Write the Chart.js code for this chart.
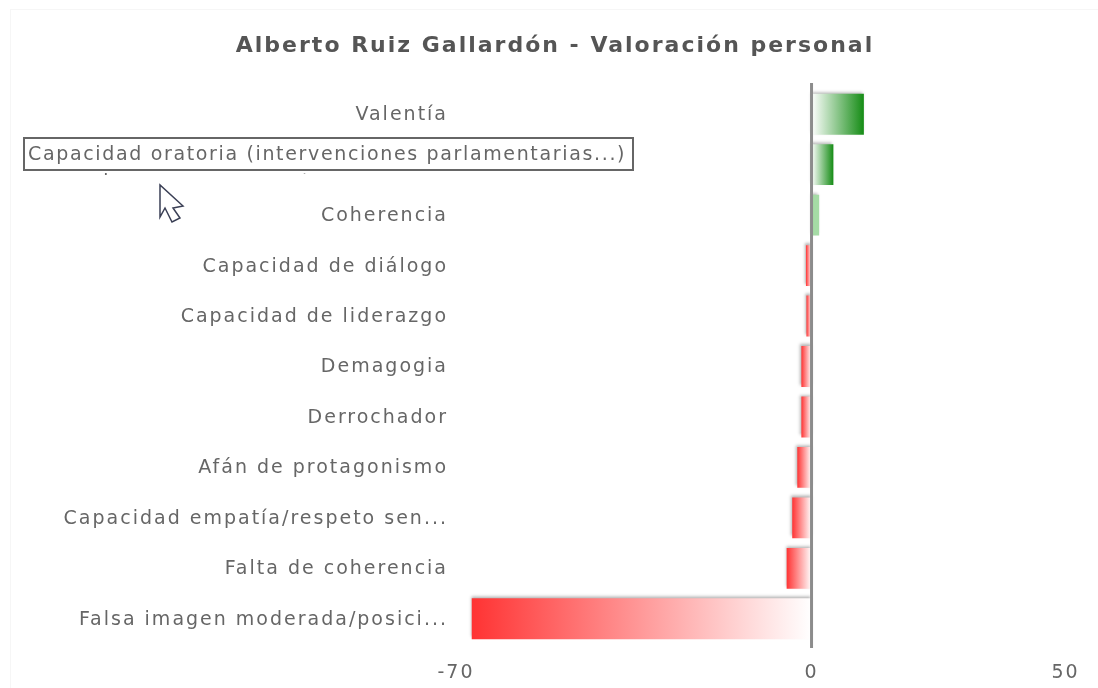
<!DOCTYPE html>
<html>
<head>
<meta charset="utf-8">
<title>Alberto Ruiz Gallardón - Valoración personal</title>
<script src="https://cdn.jsdelivr.net/npm/chart.js@4"></script>
<style>
  html, body { margin: 0; padding: 0; background: #fff; }
  #wrap { position: relative; width: 1098px; height: 688px; overflow: hidden; }
</style>
</head>
<body>
<div id="wrap"><canvas id="chart" width="1098" height="688"></canvas></div>
<script>
const categories = [
  "Valentía",
  "Capacidad oratoria (intervenci...",
  "Coherencia",
  "Capacidad de diálogo",
  "Capacidad de liderazgo",
  "Demagogia",
  "Derrochador",
  "Afán de protagonismo",
  "Capacidad empatía/respeto sen...",
  "Falta de coherencia",
  "Falsa imagen moderada/posici...",
];
const values = [10.3, 4.3, 1.5, -1.1, -1, -2, -2, -2.8, -3.8, -4.9, -66.9];
const xTicks = [-70, 0, 50];
const chartTitle = "Alberto Ruiz Gallardón - Valoración personal";
const hoverText = "Capacidad oratoria (intervenciones parlamentarias...)";

const textFont = "'DejaVu Sans', sans-serif";

function barFill(context) {
  const chart = context.chart;
  const x = chart.scales.x;
  const v = context.raw;
  if (!x || typeof v !== "number") return "#888";
  const from = x.getPixelForValue(0);
  const to = x.getPixelForValue(v);
  if (!Number.isFinite(from) || !Number.isFinite(to)) return "#888";
  // the thinnest green bar is just a pale sliver in the original
  if (v > 0 && v < 2) return "#a5dba5";
  const g = chart.ctx.createLinearGradient(from, 0, to, 0);
  g.addColorStop(0, "#ffffff");
  g.addColorStop(1, v >= 0 ? "#158c15" : "#ff3333");
  return g;
}

// the original text is stretched wider than any installed font
const wideText = {
  id: "wideText",
  beforeUpdate(chart) {
    chart.ctx.letterSpacing = "2px";
  },
  beforeDraw(chart) {
    chart.ctx.letterSpacing = "2px";
  },
};

// soft grey shadow on the bars, and the zero line that overshoots the plot
const barDecor = {
  id: "barDecor",
  beforeDatasetsDraw(chart) {
    const c = chart.ctx;
    c.save();
    c.shadowColor = "rgba(0,0,0,0.3)";
    c.shadowBlur = 3;
    c.shadowOffsetX = -1;
    c.shadowOffsetY = -2;
  },
  afterDatasetsDraw(chart) {
    const c = chart.ctx;
    c.restore();
    const zero = chart.scales.x.getPixelForValue(0);
    c.save();
    c.strokeStyle = "#8c8c8c";
    c.lineWidth = 3;
    c.beginPath();
    c.moveTo(zero, chart.chartArea.top - 6);
    c.lineTo(zero, chart.chartArea.bottom + 4);
    c.stroke();
    c.restore();
  },
};

// hover label and mouse pointer caught in the screenshot
const hoverMark = {
  id: "hoverMark",
  afterDraw(chart) {
    const c = chart.ctx;
    c.save();
    c.strokeStyle = "#f6f6f6";
    c.lineWidth = 1;
    c.strokeRect(10.5, 9.5, 1100, 700);
    c.fillStyle = "#fff";
    c.fillRect(24, 138, 609, 35);
    c.strokeStyle = "#666";
    c.lineWidth = 2;
    c.strokeRect(24, 138, 609, 32);
    c.fillStyle = "#666";
    c.font = "19px " + textFont;
    c.letterSpacing = "1.65px";
    c.textBaseline = "middle";
    c.textAlign = "left";
    c.fillText(hoverText, 28, 155);
    c.beginPath();
    c.moveTo(160, 185);
    c.lineTo(160, 217);
    c.lineTo(165, 208);
    c.lineTo(172, 222);
    c.lineTo(180, 218);
    c.lineTo(173, 208);
    c.lineTo(183, 206);
    c.closePath();
    c.fillStyle = "#fff";
    c.fill();
    c.strokeStyle = "#3a3f55";
    c.lineWidth = 1.5;
    c.stroke();
    c.restore();
  },
};

new Chart(document.getElementById("chart"), {
  type: "bar",
  data: {
    labels: categories,
    datasets: [
      {
        data: values,
        backgroundColor: barFill,
        barPercentage: 0.81,
        categoryPercentage: 1,
      },
    ],
  },
  plugins: [wideText, barDecor, hoverMark],
  options: {
    indexAxis: "y",
    responsive: false,
    animation: false,
    layout: { padding: { left: 15, right: 3, top: 0, bottom: 0 } },
    plugins: {
      legend: { display: false },
      tooltip: { enabled: false },
      title: {
        display: true,
        text: chartTitle,
        color: "#555",
        font: { family: textFont, size: 22, weight: "bold" },
        padding: { top: 33, bottom: 29.6 },
      },
    },
    scales: {
      x: {
        min: -70,
        max: 50,
        grid: { display: false },
        border: { display: false },
        afterBuildTicks(axis) {
          axis.ticks = xTicks.map((value) => ({ value }));
        },
        afterFit(axis) {
          axis.height = 44;
          axis.paddingRight = 32.5;
        },
        ticks: {
          color: "#666",
          font: { family: textFont, size: 19 },
          padding: 10,
          maxRotation: 0,
          autoSkip: false,
        },
      },
      y: {
        grid: { display: false },
        border: { display: false },
        afterFit(axis) {
          axis.width = 441;
        },
        ticks: {
          color: "#666",
          font: { family: textFont, size: 19 },
          padding: 0,
          labelOffset: 1,
          autoSkip: false,
        },
      },
    },
  },
});
</script>
</body>
</html>
